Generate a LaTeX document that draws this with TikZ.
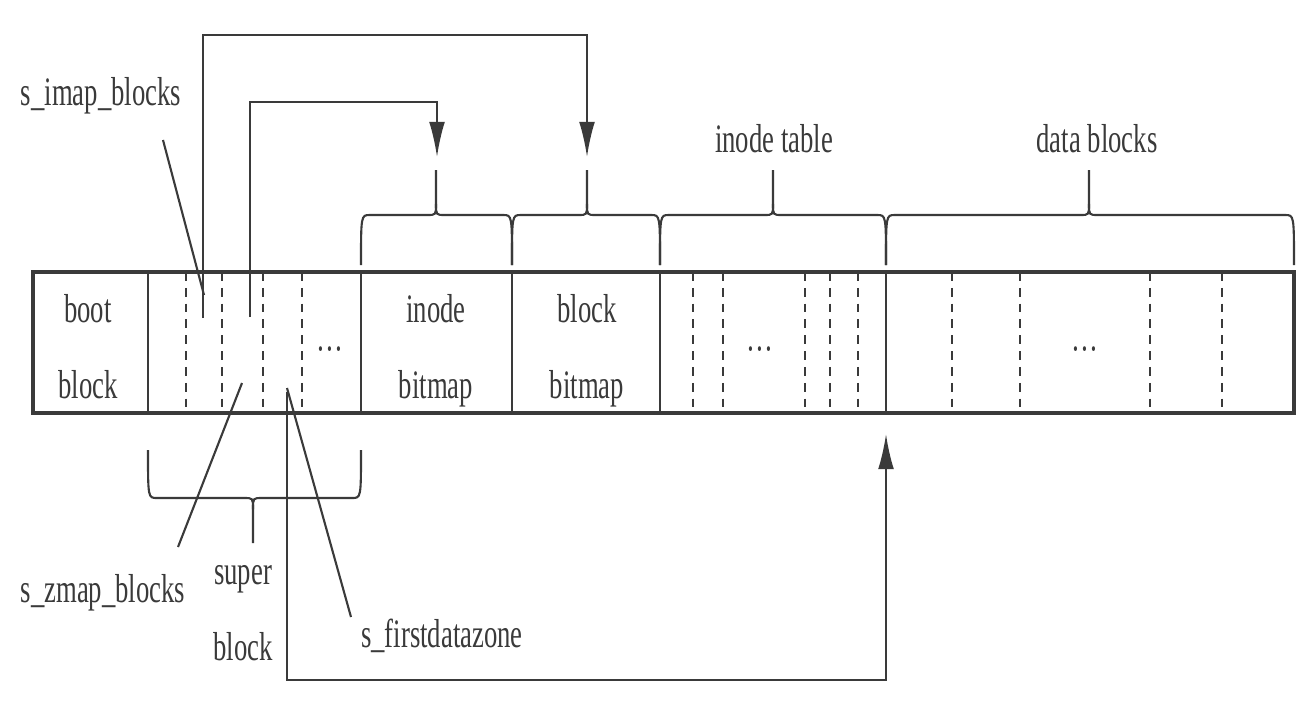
\documentclass[tikz,border=0pt]{standalone}
\usepackage{fontspec}
\setmainfont{Liberation Serif}[FakeStretch=0.66]
\usetikzlibrary{arrows.meta}

\definecolor{ink}{HTML}{3A3A3A}

% curly brace: ends x1,x2 at yend, flat part at ybase, tip at xm up to ytip
\newcommand{\zbrace}[6]{%
  \draw[link] (#1,#4) .. controls (#1,#5) and (#1,#5) .. (#1+9,#5)
    -- (#3-9,#5) .. controls (#3,#5) and (#3,#5) .. (#3,{#5+(#6-#5)*0.25})
    -- (#3,#6);
  \draw[link] (#3,{#5+(#6-#5)*0.25}) .. controls (#3,#5) and (#3,#5) .. (#3+9,#5)
    -- (#2-9,#5) .. controls (#2,#5) and (#2,#5) .. (#2,#4);
}

\tikzset{
  bar/.style={draw=ink, line width=0.9pt},
  wall/.style={draw=ink, line width=0.6pt},
  sep/.style={draw=ink, line width=0.6pt, dash pattern=on 2.5pt off 2pt},
  link/.style={draw=ink, line width=0.6pt},
  ptr/.style={link, -{Latex[length=10pt,width=4.5pt]}},
  lbl/.style={font=\fontsize{11.5}{21.6}\selectfont, text=ink, inner sep=0pt, align=center},
}

\begin{document}
\begin{tikzpicture}[x=0.01cm, y=-0.01cm]
  \useasboundingbox (0,0) rectangle (1315,711);

  % the disk
  \draw[bar] (33,272) rectangle (1294,413);
  \foreach \x in {148,361,512,660,886}
    \draw[wall] (\x,272) -- (\x,413);
  \foreach \x in {186,222,263,302,693,723,805,830,858,952,1020,1150,1222}
    \draw[sep] (\x,272) -- (\x,413);

  \node[lbl, anchor=base] (boot) at (88,398) {boot\\block};
  \node[lbl, anchor=base] (imap) at (436,398) {inode\\bitmap};
  \node[lbl, anchor=base] (zmap) at (587,398) {block\\bitmap};
  \node[lbl] (dotsa) at (330,355) {\textperiodcentered\textperiodcentered\textperiodcentered};
  \node[lbl] (dotsb) at (760,355) {\textperiodcentered\textperiodcentered\textperiodcentered};
  \node[lbl] (dotsc) at (1085,355) {\textperiodcentered\textperiodcentered\textperiodcentered};

  % braces
  \zbrace{361}{512}{436}{265}{215}{170}
  \zbrace{512}{660}{587}{265}{215}{170}
  \zbrace{660}{886}{773}{265}{215}{170}
  \zbrace{886}{1294}{1089}{265}{215}{170}
  \zbrace{148}{361}{253}{450}{498}{543}

  \node[lbl, anchor=base] (itable) at (774,152) {inode table};
  \node[lbl, anchor=base] (dblocks) at (1097,152) {data blocks};
  \node[lbl, anchor=base] (super) at (243,660) {super\\block};

  % pointers out of the super block
  \coordinate (imapsrc) at (203,318);
  \coordinate (imaptop) at (587,35);
  \coordinate (imapin) at (587,157);
  \coordinate (zmapsrc) at (250,317);
  \coordinate (zmaptop) at (437,102);
  \coordinate (zmapin) at (437,157);
  \coordinate (fdzsrc) at (287,392);
  \coordinate (fdzlow) at (886,680);
  \coordinate (fdzin) at (886,434);

  \draw[ptr] (imapsrc) |- (imaptop) -- (imapin);
  \draw[ptr] (zmapsrc) |- (zmaptop) -- (zmapin);
  \draw[ptr] (fdzsrc) |- (fdzlow) -- (fdzin);

  % field names
  \node[lbl, anchor=base] (simap) at (101,105) {s\_imap\_blocks};
  \node[lbl, anchor=base] (szmap) at (103,602) {s\_zmap\_blocks};
  \node[lbl, anchor=base] (sfdz) at (442,647) {s\_firstdatazone};

  \coordinate (simapa) at (163,140);
  \coordinate (simapb) at (204,295);
  \coordinate (szmapa) at (178,547);
  \coordinate (szmapb) at (242,383);
  \coordinate (sfdza) at (351,617);
  \coordinate (sfdzb) at (287,388);

  \draw[link] (simapa) -- (simapb);
  \draw[link] (szmapa) -- (szmapb);
  \draw[link] (sfdza) -- (sfdzb);
\end{tikzpicture}
\end{document}
